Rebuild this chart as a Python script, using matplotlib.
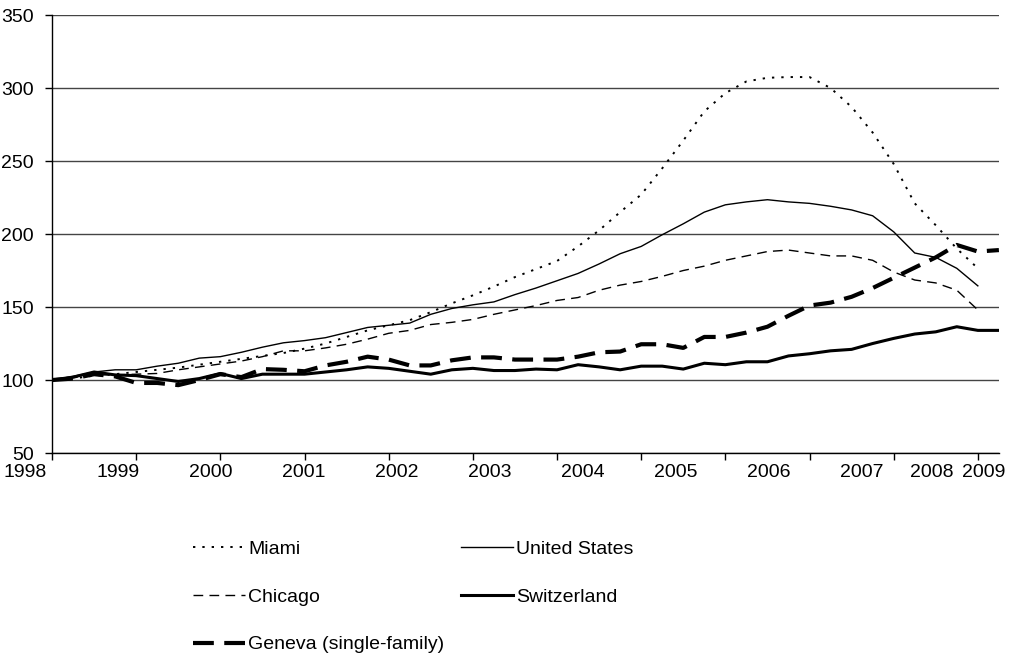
import numpy as np
import matplotlib
matplotlib.use("Agg")
from matplotlib import pyplot as plt

plt.rcParams['font.family'] = ['Liberation Sans', 'DejaVu Sans']

# quarterly index, 1998 Q1 = 100
years = ['1998', '1999', '2000', '2001', '2002', '2003', '2004',
         '2005', '2006', '2007', '2008', '2009']
# where the year labels sit, in quarters from 1998 Q1
year_pos = [-1.28, 3.14, 7.56, 11.98, 16.4, 20.82, 25.24,
            29.66, 34.08, 38.5, 41.8, 44.3]

miami = [100, 101, 103, 104, 105.5, 107, 108.5, 110.5, 112.5, 114.5,
         116.5, 118.5, 121.5, 125, 129.5, 134, 137.5, 141, 146.5, 152.5,
         158, 164, 170.5, 176, 181.5, 191.5, 202.5, 215, 227, 245,
         264, 284, 296.5, 304.5, 307, 307.5, 307.5, 300, 287, 269.5,
         248, 221, 206, 190, 176.5]
united_states = [100, 102.5, 105.5, 107, 107, 109.5, 111.5, 115, 116, 119,
                 122.5, 125.5, 127, 129, 132.5, 136, 137.5, 139, 145, 149,
                 151.5, 153.5, 158.5, 163, 168, 173, 179.5, 186.5, 191.5, 199.5,
                 207, 215, 220, 222, 223.5, 222, 221, 219, 216.5, 212.5,
                 201.5, 187, 184, 176.5, 164.5]
chicago = [100, 101.5, 103.5, 103.5, 104, 104.5, 107, 109, 111, 113,
           116, 120, 120, 122, 124.5, 128, 132, 134, 138, 139.5,
           141.5, 145, 148, 151, 154.5, 156.5, 161.5, 165, 167.5, 171,
           175, 178, 182, 185, 188, 189, 187, 185, 185, 182,
           174, 168.5, 166.5, 161.5, 148]
switzerland = [100, 102, 105.5, 103.5, 103, 101, 99, 101, 104.5, 101,
               104, 104, 104, 105.5, 107, 109, 108, 106, 104, 107,
               108, 106.5, 106.5, 107.5, 107, 110.5, 109, 107, 109.5, 109.5,
               107.5, 111.5, 110.5, 112.5, 112.5, 116.5, 118, 120, 121, 125,
               128.5, 131.5, 133, 136.5, 134, 134]
geneva = [100, 101, 104, 102.5, 98, 98, 96.5, 100, 104, 102,
          107.5, 107, 106, 110, 112.5, 116, 114, 110, 110, 113.5,
          115.5, 115.5, 114, 114, 114, 116, 119, 119.5, 124.5, 124.5,
          122, 129.5, 129.5, 132.5, 136.5, 144, 151, 153, 157, 163,
          170, 177, 184, 192.5, 188, 189]

fig = plt.figure(figsize=(10.1, 6.67), dpi=100)
ax = fig.add_axes([0.0515, 0.3208, 0.9375, 0.6567])

l_mia, = ax.plot(np.arange(len(miami)), miami, color='black', lw=1.4,
                 linestyle=(0, (1.2, 3.6)), label='Miami')
l_us, = ax.plot(np.arange(len(united_states)), united_states, color='black',
                lw=1.0, label='United States')
l_chi, = ax.plot(np.arange(len(chicago)), chicago, color='black', lw=1.0,
                 linestyle=(0, (7, 4.5)), label='Chicago')
l_sw, = ax.plot(np.arange(len(switzerland)), switzerland, color='black',
                lw=2.2, label='Switzerland')
l_ge, = ax.plot(np.arange(len(geneva)), geneva, color='black', lw=3.0,
                linestyle=(0, (5, 2.5)), label='Geneva (single-family)')

ax.set_xlim(0, 45)
ax.set_ylim(50, 350)
ax.set_yticks(range(50, 351, 50))
ax.set_xticks(range(0, 45, 4))
ax.set_xticklabels([])
ax.tick_params(axis='x', length=5, width=1, direction='out')
ax.tick_params(axis='y', length=5, width=1, direction='out', labelsize=14, pad=8)
ax.grid(axis='y', color='#444444', lw=1)
ax.set_axisbelow(True)
for s in ['top', 'right']:
    ax.spines[s].set_visible(False)
ax.spines['left'].set_linewidth(1)
ax.spines['bottom'].set_linewidth(1)

for y, p in zip(years, year_pos):
    ax.text(p, -0.044, y, transform=ax.get_xaxis_transform(), ha='center',
            va='center', fontsize=14, clip_on=False)

# row-major legend: Miami / United States, Chicago / Switzerland, Geneva
fig.legend(handles=[l_mia, l_chi, l_ge, l_us, l_sw], ncol=2, loc='upper left',
           bbox_to_anchor=(0.191, 0.190), frameon=False, fontsize=14,
           handlelength=2.7, handletextpad=0.15, columnspacing=0.85,
           labelspacing=1.55, borderaxespad=0, borderpad=0)

fig.savefig('out.png', dpi=100)
